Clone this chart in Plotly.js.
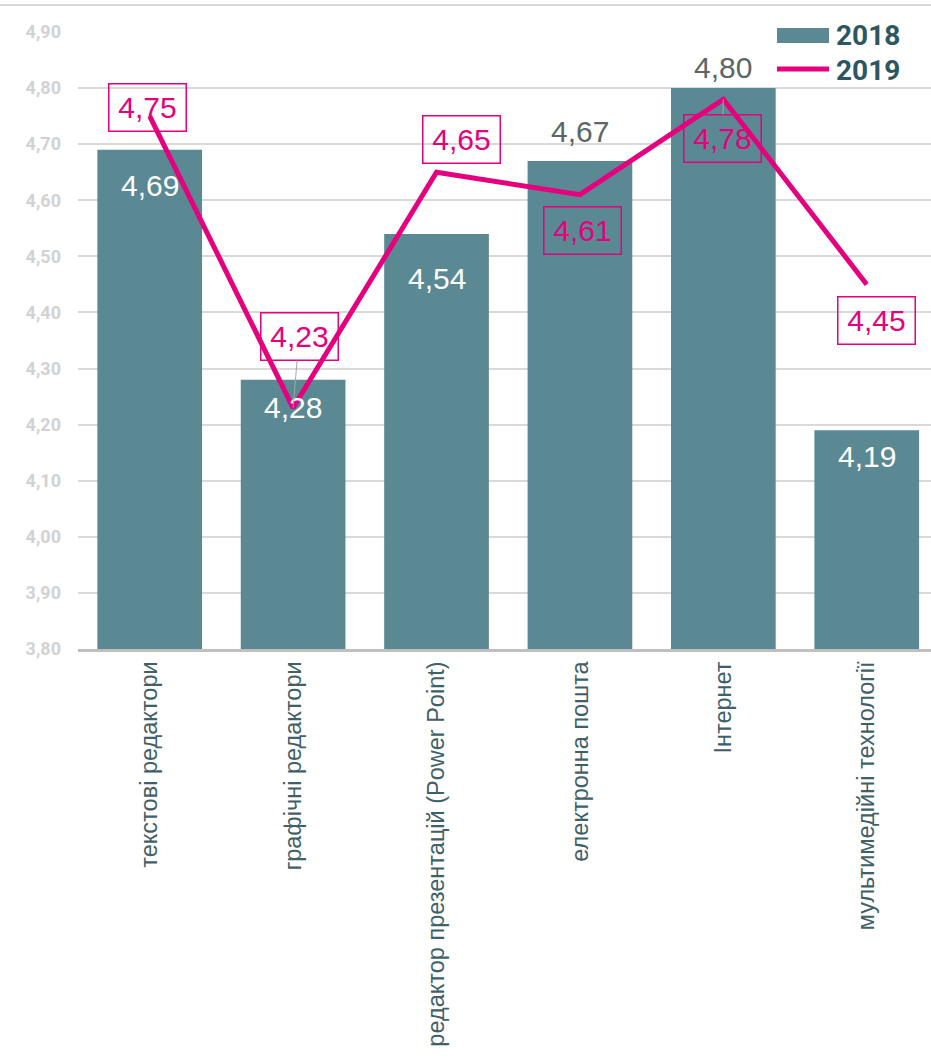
<!DOCTYPE html>
<html>
<head>
<meta charset="utf-8">
<script src="https://cdn.plot.ly/plotly-3.0.1.min.js"></script>
<style>
html,body{margin:0;padding:0;background:#fff;}
#chart{width:931px;height:1057px;}
</style>
</head>
<body>
<div id="chart"></div>
<script>
const categories = ["текстові редактори","графічні редактори","редактор презентацій (Power Point)","електронна пошта","Інтернет","мультимедійні технології"];
const values2018 = [4.69, 4.28, 4.54, 4.67, 4.80, 4.19];
const values2019 = [4.75, 4.23, 4.65, 4.61, 4.78, 4.45];
const yTickVals = [3.8,3.9,4.0,4.1,4.2,4.3,4.4,4.5,4.6,4.7,4.8,4.9];
const yTickText = ["3,80","3,90","4,00","4,10","4,20","4,30","4,40","4,50","4,60","4,70","4,80","4,90"];
const seriesNames = ["2018","2019"];

// label placement (styles)
const barLabelShift = [-36, -28, -45, 30, 21, -26];
const barLabelInside = [true, true, true, false, false, true];
const lineLabelAx = [-2, 6, 25, 3, -1, 10];
const lineLabelAy = [-9, -71, -33, 36, 39, 36];
const lineLeader = [false, true, false, false, true, false];

const fmt = v => v.toFixed(2).replace('.', ',');

const barColor = '#5a8893';
const magenta = '#e5007d';

const traces = [
  {type:'bar', x:categories, y:values2018, name:seriesNames[0], marker:{color:barColor}, showlegend:false, hoverinfo:'none'},
  {type:'scatter', mode:'lines', x:categories, y:values2019, name:seriesNames[1], line:{color:magenta, width:5}, showlegend:false, hoverinfo:'none'}
];

const annotations = [];
categories.forEach((c,i)=>{
  annotations.push({
    x:c, y:values2018[i], xref:'x', yref:'y', text:fmt(values2018[i]), showarrow:false,
    yshift:barLabelShift[i],
    font:{family:'Liberation Sans, Arial, sans-serif', size:30, color: barLabelInside[i] ? '#ffffff' : '#5a6766'}
  });
  annotations.push({
    x:c, y:values2019[i], xref:'x', yref:'y', text:fmt(values2019[i]),
    showarrow:true, arrowhead:0, arrowwidth:1, standoff:0,
    arrowcolor: lineLeader[i] ? '#a6a6a6' : 'rgba(0,0,0,0)',
    ax:lineLabelAx[i], ay:lineLabelAy[i],
    width:66, height:36, borderpad:5, bordercolor:magenta, borderwidth:1.5,
    font:{family:'Liberation Sans, Arial, sans-serif', size:30, color:magenta}
  });
});

// custom legend
const plotW = 853, plotH = 617;
const px = v => (v-78)/plotW;
const py = v => (649-v)/plotH;
const legendFont = {family:'Roboto, DejaVu Sans Condensed, sans-serif', size:28, color:'#2e5661', weight:'bold'};
annotations.push({xref:'paper', yref:'paper', x:px(834), y:py(36), xanchor:'left', yanchor:'middle', text:seriesNames[0], showarrow:false, font:legendFont});
annotations.push({xref:'paper', yref:'paper', x:px(834), y:py(70), xanchor:'left', yanchor:'middle', text:seriesNames[1], showarrow:false, font:legendFont});

const shapes = [
  {type:'line', xref:'paper', yref:'paper', x0:px(0), x1:px(931), y0:py(5), y1:py(5), line:{color:'#d9d9d9', width:2}},
  {type:'rect', xref:'paper', yref:'paper', x0:px(777), x1:px(829), y0:py(43), y1:py(28), fillcolor:barColor, line:{width:0}},
  {type:'line', xref:'paper', yref:'paper', x0:px(777), x1:px(829), y0:py(69), y1:py(69), line:{color:magenta, width:5}}
];

const layout = {
  width:931, height:1057,
  margin:{l:78, r:0, t:32, b:408},
  paper_bgcolor:'#ffffff', plot_bgcolor:'#ffffff',
  bargap:0.27,
  showlegend:false,
  xaxis:{
    type:'category', range:[-0.5, 5.448], tickangle:-90,
    tickfont:{family:'Liberation Sans, Arial, sans-serif', size:23.5, color:'#3f6068'},
    showline:true, linecolor:'#bfbfbf', linewidth:3, ticks:'', showgrid:false, zeroline:false
  },
  yaxis:{
    range:[3.8, 4.9], tickvals:yTickVals, ticktext:yTickText,
    tickfont:{family:'Roboto, Liberation Sans, Arial, sans-serif', size:18, color:'#d2d2d2', weight:'bold'},
    showgrid:true, gridcolor:'#d9d9d9', gridwidth:2, zeroline:false, showline:false, ticks:'',
    ticklabelstandoff:16
  },
  annotations:annotations,
  shapes:shapes
};

Plotly.newPlot('chart', traces, layout, {displayModeBar:false, staticPlot:true});
</script>
</body>
</html>
